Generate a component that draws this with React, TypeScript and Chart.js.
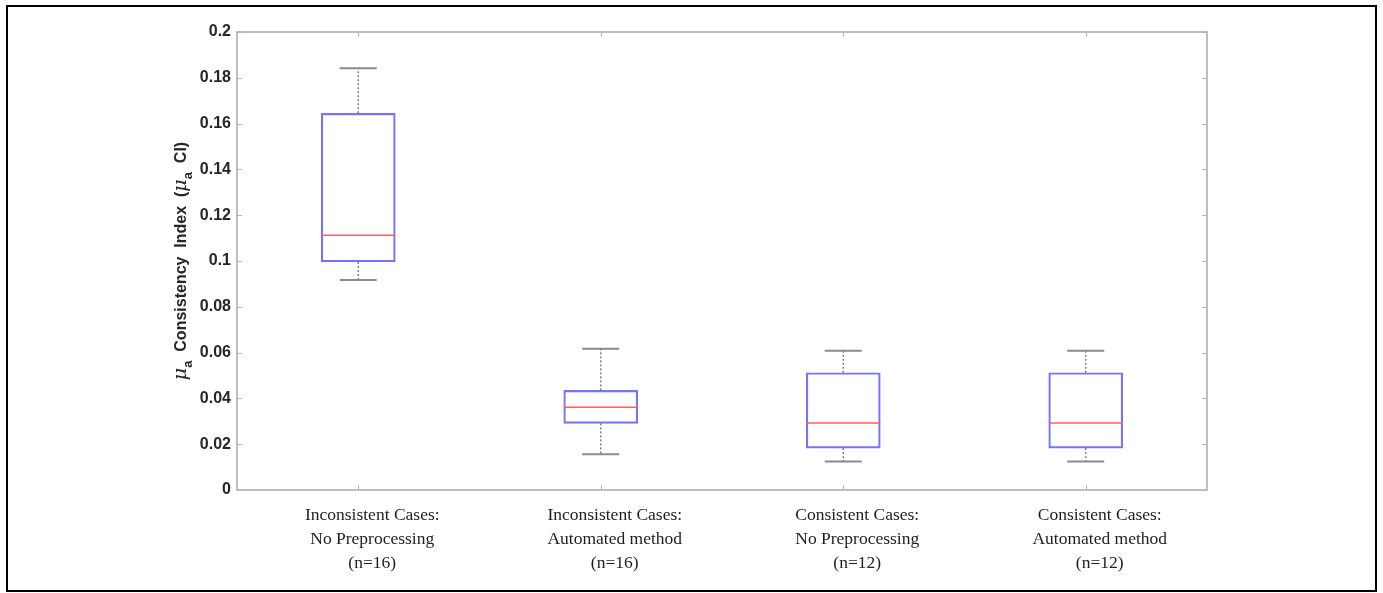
import React, { useEffect, useRef } from 'react';
import { Chart, registerables } from 'chart.js';

Chart.register(...registerables);

// ---- data ----
const categories: string[][] = [
  ['Inconsistent Cases:', 'No Preprocessing', '(n=16)'],
  ['Inconsistent Cases:', 'Automated method', '(n=16)'],
  ['Consistent Cases:', 'No Preprocessing', '(n=12)'],
  ['Consistent Cases:', 'Automated method', '(n=12)'],
];
const whiskerLow = [0.0917, 0.0156, 0.0124, 0.0124];
const quartile1 = [0.0996, 0.0291, 0.0183, 0.0183];
const medians = [0.1112, 0.0361, 0.0293, 0.0293];
const quartile3 = [0.1645, 0.0435, 0.0512, 0.0512];
const whiskerHigh = [0.1842, 0.0617, 0.0608, 0.0608];
const yMin = 0;
const yMax = 0.2;
const yStep = 0.02;

const FRAME = '#a9a9a9';

const boxPlugin = {
  id: 'boxExtras',
  afterDatasetsDraw(chart: any) {
    const { ctx, scales } = chart;
    const x = scales.x;
    const y = scales.y;
    const meta = chart.getDatasetMeta(0);
    const line = (x1: number, y1: number, x2: number, y2: number) => {
      ctx.beginPath();
      ctx.moveTo(x1, y1);
      ctx.lineTo(x2, y2);
      ctx.stroke();
    };
    ctx.save();
    meta.data.forEach((bar: any, i: number) => {
      const { width } = bar.getProps(['width'], true);
      const half = width / 2;
      const cx = x.getPixelForValue(i);
      const yHi = y.getPixelForValue(whiskerHigh[i]);
      const yLo = y.getPixelForValue(whiskerLow[i]);
      const yQ1 = y.getPixelForValue(quartile1[i]);
      const yQ3 = y.getPixelForValue(quartile3[i]);
      const yMed = y.getPixelForValue(medians[i]);
      ctx.strokeStyle = '#707070';
      ctx.lineWidth = 1.3;
      ctx.setLineDash([2, 2]);
      line(cx, yQ3, cx, yHi);
      line(cx, yQ1, cx, yLo);
      ctx.setLineDash([]);
      ctx.strokeStyle = '#8a8a8a';
      ctx.lineWidth = 2;
      line(cx - half / 2, yHi, cx + half / 2, yHi);
      line(cx - half / 2, yLo, cx + half / 2, yLo);
      ctx.strokeStyle = '#ff6060';
      ctx.lineWidth = 1.5;
      line(cx - half, yMed, cx + half, yMed);
    });
    ctx.restore();
  },
  afterDraw(chart: any) {
    const { ctx, chartArea: a, scales } = chart;
    const x = scales.x;
    const y = scales.y;
    ctx.save();
    ctx.strokeStyle = FRAME;
    ctx.lineWidth = 1.5;
    ctx.strokeRect(a.left, a.top, a.right - a.left, a.bottom - a.top);
    ctx.lineWidth = 1;
    ctx.strokeStyle = '#b5b5b5';
    y.ticks.forEach((_t: any, idx: number) => {
      const py = Math.round(y.getPixelForTick(idx)) + 0.5;
      ctx.beginPath();
      ctx.moveTo(a.left, py);
      ctx.lineTo(a.left + 5, py);
      ctx.moveTo(a.right, py);
      ctx.lineTo(a.right - 5, py);
      ctx.stroke();
    });
    x.ticks.forEach((_t: any, idx: number) => {
      const px = Math.round(x.getPixelForTick(idx)) + 0.5;
      ctx.beginPath();
      ctx.moveTo(px, a.bottom);
      ctx.lineTo(px, a.bottom - 5);
      ctx.moveTo(px, a.top);
      ctx.lineTo(px, a.top + 5);
      ctx.stroke();
    });

    // y-axis title with subscripts
    const big = 'bold 16px "Liberation Sans", Arial, sans-serif';
    const mu = 'italic 19px "DejaVu Serif", serif';
    const sub = 'bold 13px "Liberation Sans", Arial, sans-serif';
    const parts = [
      { t: '\u03bc', f: mu, dy: 0 },
      { t: 'a', f: sub, dy: 6 },
      { t: '  Consistency  Index  (', f: big, dy: 0 },
      { t: '\u03bc', f: mu, dy: 0 },
      { t: 'a', f: sub, dy: 6 },
      { t: '  CI)', f: big, dy: 0 },
    ];
    let total = 0;
    const widths = parts.map((p) => {
      ctx.font = p.f;
      const w = ctx.measureText(p.t).width;
      total += w;
      return w;
    });
    ctx.translate(186, (a.top + a.bottom) / 2);
    ctx.rotate(-Math.PI / 2);
    ctx.fillStyle = '#262626';
    ctx.textBaseline = 'alphabetic';
    ctx.textAlign = 'left';
    let cur = -total / 2;
    parts.forEach((p, i) => {
      ctx.font = p.f;
      ctx.fillText(p.t, cur, p.dy);
      cur += widths[i];
    });
    ctx.restore();
  },
};

export default function App() {
  const ref = useRef<HTMLCanvasElement | null>(null);
  useEffect(() => {
    if (!ref.current) return;
    const chart = new Chart(ref.current, {
      type: 'bar',
      data: {
        labels: categories,
        datasets: [
          {
            data: quartile1.map((q, i) => [q, quartile3[i]]),
            backgroundColor: 'rgba(0,0,0,0)',
            borderColor: '#7474ff',
            borderWidth: 1.5,
            borderSkipped: false,
            barThickness: 74,
          } as any,
        ],
      },
      options: {
        animation: false,
        responsive: false,
        devicePixelRatio: 1,
        layout: { padding: { left: 0, right: 176, top: 32, bottom: 0 } },
        plugins: { legend: { display: false }, tooltip: { enabled: false } },
        scales: {
          x: {
            grid: { display: false, drawTicks: false, tickLength: 0 },
            border: { display: false },
            ticks: {
              padding: 13,
              labelOffset: 14,
              color: '#1e1e1e',
              font: { family: '"Liberation Serif", "Times New Roman", serif', size: 17.5, lineHeight: 1.38 },
              maxRotation: 0,
              autoSkip: false,
            },
            afterFit: (s: any) => {
              s.height = 103;
            },
          },
          y: {
            min: yMin,
            max: yMax,
            grid: { display: false, drawTicks: false, tickLength: 0 },
            border: { display: false },
            ticks: {
              stepSize: yStep,
              padding: 6,
              color: '#262626',
              font: { family: '"Liberation Sans", Arial, sans-serif', size: 16, weight: 'bold' },
              callback: (v: any) => String(+Number(v).toFixed(2)),
            },
            afterFit: (s: any) => {
              s.width = 237;
            },
          },
        },
      },
      plugins: [boxPlugin],
    });
    return () => chart.destroy();
  }, []);
  return (
    <>
      <canvas
        ref={ref}
        width={1383}
        height={593}
        style={{ position: 'fixed', left: 0, top: 0, width: 1383, height: 593 }}
      />
      <div
        style={{
          position: 'fixed',
          left: 6,
          top: 5,
          width: 1371,
          height: 587,
          boxSizing: 'border-box',
          border: '2px solid #000',
          pointerEvents: 'none',
        }}
      />
    </>
  );
}
